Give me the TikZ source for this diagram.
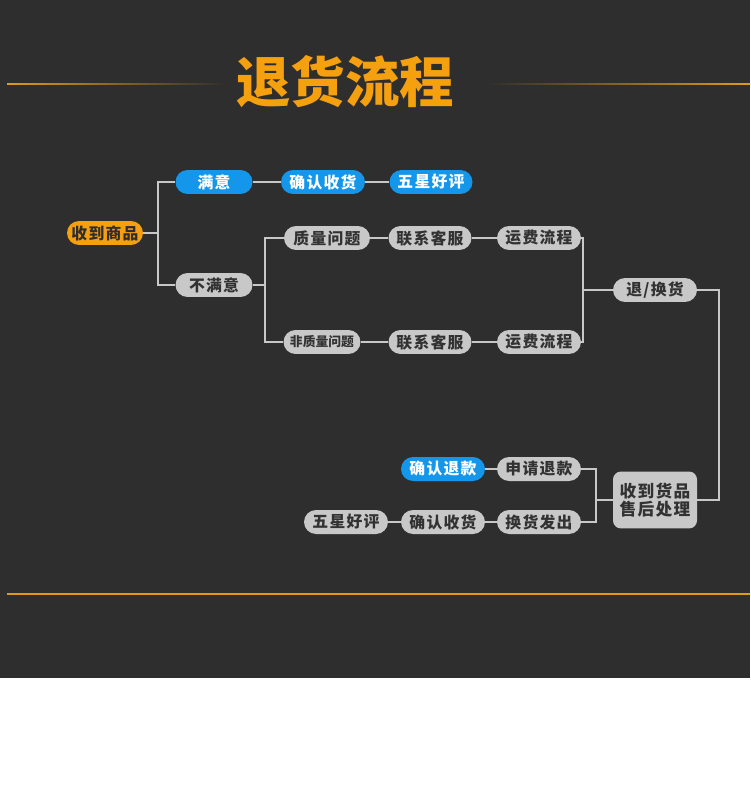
\documentclass[tikz,border=0pt]{standalone}
\usepackage{fontspec}
\newfontfamily\cjk{Noto Sans CJK SC}
\usetikzlibrary{calc}

\tikzset{
  pillfont/.style={font=\cjk\bfseries\fontsize{9}{10}\selectfont\addfontfeature{LetterSpace=8}},
  pill/.style={pillfont, rectangle, rounded corners=0.24cm, inner sep=0pt,
    minimum width=1.68cm, minimum height=0.48cm},
  graypill/.style={pill, fill=r200g200b200, text=r50g50b50},
  bluepill/.style={pill, fill=r20g150b235, text=white},
  orangepill/.style={pill, fill=r245g160b15, text=r46g46b46},
  link/.style={draw=r200g200b200, line width=0.03cm}
}

\begin{document}
\begin{tikzpicture}[x=0.02cm, y=-0.02cm]
  % Changing color 46 46 46
  \definecolor{r46g46b46}{RGB}{46,46,46}%
  \definecolor{r50g50b50}{RGB}{50,50,50}%
  \definecolor{r200g200b200}{RGB}{200,200,200}%
  \definecolor{r20g150b235}{RGB}{20,150,235}%
  \definecolor{r245g160b15}{RGB}{245,160,15}%
  \definecolor{r224g154b26}{RGB}{224,154,26}%

  % Filling background
  \useasboundingbox (0,0) rectangle (750,800);
  \fill[r46g46b46] (0,0) rectangle (750,678);
  \fill[white] (0,678) rectangle (750,800);

  % Drawing title and its rules
  \node[font=\cjk\bfseries\fontsize{31}{31}\selectfont, text=r245g160b15] (title) at (345,82) {退货流程};
  \shade[left color=r224g154b26, right color=r46g46b46] (7,83.4) rectangle (228,84.6);
  \shade[left color=r46g46b46, right color=r224g154b26] (485,83.4) rectangle (750,84.6);
  \draw[r224g154b26, line width=0.03cm] (7,594) -- (750,594);

  % Marking nodes
  \node[orangepill, minimum width=1.52cm] (goods) at (105,233) {收到商品};
  \node[bluepill, minimum width=1.54cm] (ok) at (214,182) {满意};
  \node[graypill, minimum width=1.54cm] (notok) at (214,285) {不满意};
  \node[bluepill] (confirm1) at (323,182) {确认收货};
  \node[bluepill, minimum width=1.66cm] (star1) at (431,182) {五星好评};
  \node[graypill, minimum width=1.72cm] (quality) at (327,238) {质量问题};
  \node[graypill, minimum width=1.54cm, font=\cjk\bfseries\fontsize{7.3}{8}\selectfont] (nonquality) at (322,342) {非质量问题};
  \node[graypill, minimum width=1.66cm] (service1) at (430,238) {联系客服};
  \node[graypill, minimum width=1.66cm] (service2) at (430,342) {联系客服};
  \node[graypill] (fee1) at (539,238) {运费流程};
  \node[graypill] (fee2) at (539,342) {运费流程};
  \node[graypill] (swap) at (655,290) {退/换货};
  \node[graypill, rounded corners=0.16cm, minimum height=1.14cm, align=center,
    font=\cjk\bfseries\fontsize{9.5}{10.5}\selectfont\addfontfeature{LetterSpace=8}] (after) at (655,500) {收到货品\\售后处理};
  \node[graypill] (apply) at (539,469) {申请退款};
  \node[bluepill] (refund) at (443,469) {确认退款};
  \node[graypill] (send) at (539,522) {换货发出};
  \node[graypill] (confirm2) at (443,522) {确认收货};
  \node[graypill] (star2) at (346,522) {五星好评};

  % Marking junctions
  \coordinate (j1) at (158,233);
  \coordinate (j2) at (265,290);
  \coordinate (j3) at (583,290);
  \coordinate (j4) at (719,400);
  \coordinate (j5) at (596,500);

  % Drawing line goods ok notok
  \draw[link] (goods.east) -- (j1);
  \draw[link] (ok.west) -| (j1) |- (notok.west);
  \draw[link] (ok) -- (confirm1) -- (star1);

  % Drawing line notok quality nonquality
  \draw[link] (notok.east) -- (notok.east -| j2);
  \draw[link] (quality.west) -| (j2) |- (nonquality.west);
  \draw[link] (quality) -- (service1) -- (fee1);
  \draw[link] (nonquality) -- (service2) -- (fee2);

  % Drawing line fee swap after
  \draw[link] (fee1.east) -| (j3) |- (fee2.east);
  \draw[link] (j3) -- (swap.west);
  \draw[link] (swap.east) -| (j4) |- (after.east);

  % Drawing line after apply send
  \draw[link] (after.west) -- (j5);
  \draw[link] (apply.east) -| (j5) |- (send.east);
  \draw[link] (apply) -- (refund);
  \draw[link] (send) -- (confirm2) -- (star2);
\end{tikzpicture}
\end{document}
